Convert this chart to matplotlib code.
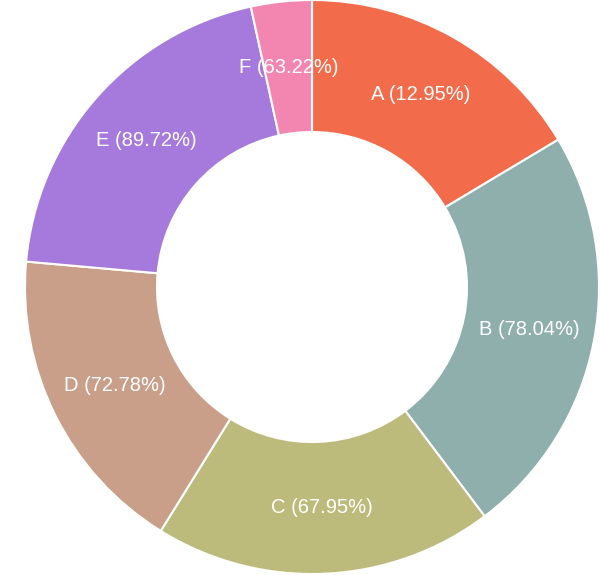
import matplotlib.pyplot as plt
import numpy as np

plt.rcParams['font.family'] = ['Liberation Sans', 'DejaVu Sans']

# slice sizes (share of the ring) and the label values printed on them
categories = ['A', 'B', 'C', 'D', 'E', 'F']
sizes = [16.42, 23.31, 19.11, 17.58, 20.17, 3.42]
label_values = [12.95, 78.04, 67.95, 72.78, 89.72, 63.22]
colors = ['#F26B4B', '#8FAFAC', '#BDBB7C', '#C99F89', '#A67ADC', '#F386B0']

fig = plt.figure(figsize=(6, 5.75), dpi=100)
ax = fig.add_axes([0, 0, 1, 1])

inner = 155 / 287
wedges, _ = ax.pie(sizes, colors=colors, startangle=90, counterclock=False,
                   radius=1.0,
                   wedgeprops=dict(width=1 - inner, edgecolor='white', linewidth=1.5))

# labels in the middle of each ring segment
r_mid = (1 + inner) / 2
for w, cat, val in zip(wedges, categories, label_values):
    ang = np.radians((w.theta1 + w.theta2) / 2)
    ax.text(r_mid * np.cos(ang), r_mid * np.sin(ang), f'{cat} ({val:.2f}%)',
            ha='center', va='center', color='white', fontsize=14.5)

ax.set_aspect('auto')
ax.set_xlim(-312 / 287, 288 / 287)
ax.set_ylim(-288 / 287, 287 / 287)
ax.axis('off')

fig.savefig('out.png', dpi=100)
